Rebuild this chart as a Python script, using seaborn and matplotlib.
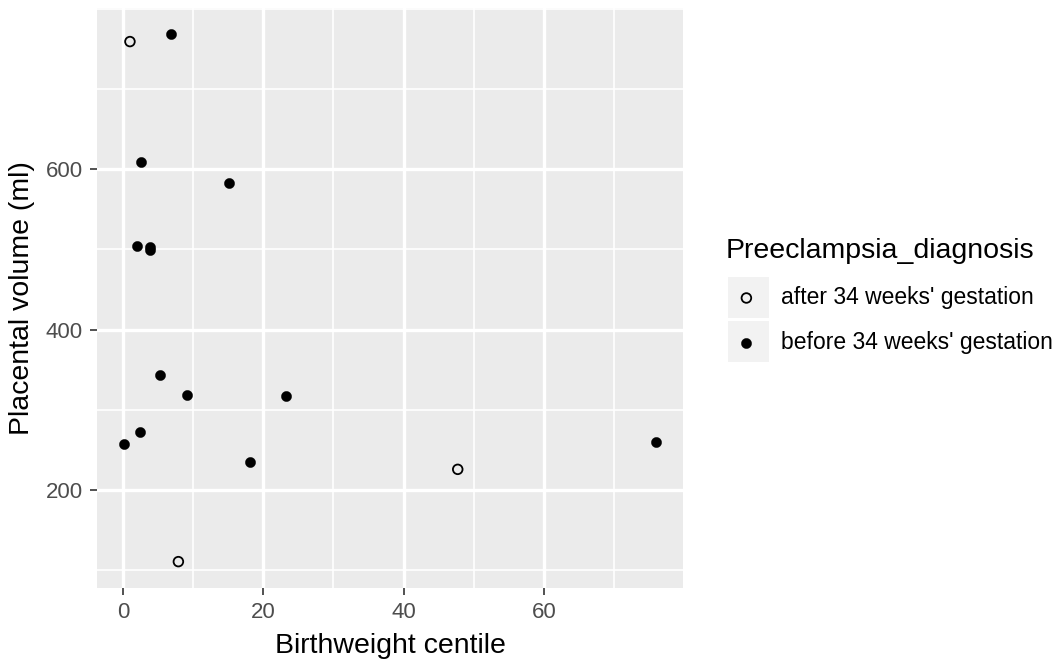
import numpy as np
import pandas as pd
import matplotlib
matplotlib.use("Agg")
import matplotlib.pyplot as plt
from matplotlib.patches import Rectangle
from matplotlib.ticker import MultipleLocator
import seaborn as sns

# ---- data ----
groups = ["after 34 weeks' gestation", "before 34 weeks' gestation"]
after_centile = [1.0, 47.7, 7.9]
after_volume = [759, 226, 111]
before_centile = [6.9, 2.6, 15.1, 2.0, 3.8, 3.8, 5.3, 9.1, 23.3, 0.1, 2.4, 18.1, 76.0]
before_volume = [768, 609, 583, 504, 503, 499, 343, 319, 317, 258, 273, 235, 260]
x_ticks = [0, 20, 40, 60]
y_ticks = [200, 400, 600]

df = pd.DataFrame({
    "Birthweight centile": after_centile + before_centile,
    "Placental volume (ml)": after_volume + before_volume,
    "Preeclampsia_diagnosis": [groups[0]] * len(after_centile) + [groups[1]] * len(before_centile),
})

sns.set_theme(style="darkgrid")
plt.rcParams["font.family"] = ["Liberation Sans", "DejaVu Sans"]
plt.rcParams["text.color"] = "black"

W, H = 1064, 664
fig = plt.figure(figsize=(W / 100, H / 100), dpi=100)
ax = fig.add_axes([97 / W, (H - 588) / H, 586 / W, 580 / H])
ax.set_facecolor("#EBEBEB")

styles = {
    groups[0]: dict(facecolor="none", edgecolor="black", linewidth=1.3, s=48),
    groups[1]: dict(facecolor="black", edgecolor="black", linewidth=0.3, s=54),
}
for g in groups:
    sub = df[df["Preeclampsia_diagnosis"] == g]
    sns.scatterplot(data=sub, x="Birthweight centile", y="Placental volume (ml)",
                    ax=ax, label=g, marker="o", zorder=3, **styles[g])

# ggplot-like expanded limits (5%)
xs = df["Birthweight centile"]
ys = df["Placental volume (ml)"]
xr = xs.max() - xs.min()
yr = ys.max() - ys.min()
ax.set_xlim(xs.min() - 0.05 * xr, xs.max() + 0.05 * xr)
ax.set_ylim(ys.min() - 0.05 * yr, ys.max() + 0.05 * yr)

ax.set_xticks(x_ticks)
ax.set_yticks(y_ticks)
ax.xaxis.set_minor_locator(MultipleLocator(10))
ax.yaxis.set_minor_locator(MultipleLocator(100))
ax.grid(which="major", color="white", linewidth=2.4)
ax.grid(which="minor", color="white", linewidth=1.2)
ax.set_axisbelow(True)
for sp in ax.spines.values():
    sp.set_visible(False)

ax.tick_params(axis="both", which="major", length=5, width=1.2, color="#333333",
               labelsize=16, labelcolor="#4D4D4D", pad=5,
               bottom=True, left=True)
ax.tick_params(axis="both", which="minor", length=0)

ax.set_xlabel("Birthweight centile", fontsize=20.5, color="black", labelpad=7)
ax.set_ylabel("Placental volume (ml)", fontsize=20.5, color="black", labelpad=8)

handles, labels = ax.get_legend_handles_labels()
if ax.get_legend():
    ax.get_legend().remove()

# legend key backgrounds
for ytop in (277, 321):
    fig.add_artist(Rectangle((728 / W, (H - ytop - 41) / H), 41 / W, 41 / H,
                             transform=fig.transFigure, facecolor="#F2F2F2",
                             edgecolor="none", zorder=0))

leg = fig.legend(handles, labels, title="Preeclampsia_diagnosis",
                 loc="upper left", bbox_to_anchor=(726 / W, (H - 238) / H),
                 frameon=False, borderpad=0, borderaxespad=0,
                 fontsize=16.5, title_fontsize=20.5, alignment="left",
                 handlelength=1.78, handletextpad=0.62, labelspacing=0.96,
                 markerscale=1.0)
for t in leg.get_texts():
    t.set_color("black")
leg.get_title().set_color("black")

fig.savefig("out.png", dpi=100, facecolor="white")
